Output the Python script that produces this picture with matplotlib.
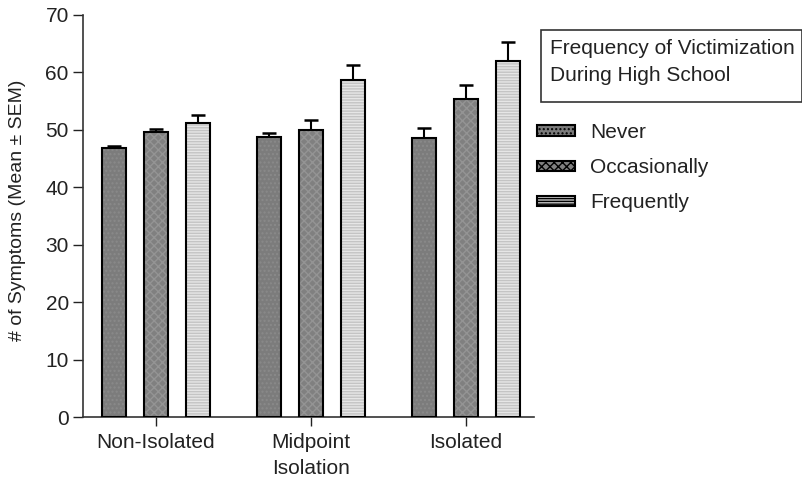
import matplotlib.pyplot as plt
import numpy as np

plt.rcParams['font.family'] = ['Liberation Sans', 'DejaVu Sans']

groups = ["Non-Isolated", "Midpoint\nIsolation", "Isolated"]
series = ["Never", "Occasionally", "Frequently"]
means = {
    "Never": [46.9, 48.7, 48.6],
    "Occasionally": [49.7, 50.0, 55.3],
    "Frequently": [51.2, 58.6, 62.0],
}
sems = {
    "Never": [0.3, 0.7, 1.8],
    "Occasionally": [0.4, 1.7, 2.5],
    "Frequently": [1.3, 2.7, 3.2],
}
legend_title = "Frequency of Victimization\nDuring High School"

# face colour, hatch, hatch colour
styles = {
    "Never": ("#7c7c7c", "....", "#8a8a8a"),
    "Occasionally": ("#808080", "xxxx", "#949494"),
    "Frequently": ("#c4c4c4", "------", "#e6e6e6"),
}

fig = plt.figure(figsize=(8.03, 4.8), dpi=100)
ax = fig.add_axes([0.103, 0.131, 0.562, 0.838])

x = np.arange(len(groups))
offset = 0.271
width = 0.155
handles = []
for i, name in enumerate(series):
    face, hatch, hcol = styles[name]
    pos = x + (i - 1) * offset
    ax.bar(pos, means[name], width, color=face, hatch=hatch, edgecolor=hcol, linewidth=0, zorder=2)
    ax.bar(pos, means[name], width, fill=False, edgecolor="black", linewidth=1.5, zorder=3)
    ax.errorbar(pos, means[name], yerr=[np.zeros(len(groups)), sems[name]], fmt="none",
                ecolor="black", elinewidth=1.5, capsize=5.3, capthick=1.8, zorder=1)
    handles.append(plt.Rectangle((0, 0), 1, 1, facecolor=face, hatch=hatch, edgecolor="black", linewidth=1.5))

ax.set_xlim(-0.471, 2.44)
ax.set_ylim(0, 70)
ax.set_yticks(range(0, 71, 10))
ax.set_xticks(x)
ax.set_xticklabels(groups, fontsize=15, linespacing=1.45)
ax.tick_params(axis="y", labelsize=15, length=7, width=1, pad=3, colors="#222222")
ax.tick_params(axis="x", length=6.5, width=1, pad=5, colors="#222222")
ax.set_ylabel("# of Symptoms (Mean \u00b1 SEM)", fontsize=14, color="#222222")
ax.yaxis.set_label_coords(-0.125, 0.515)
for s in ["top", "right"]:
    ax.spines[s].set_visible(False)
for s in ["left", "bottom"]:
    ax.spines[s].set_linewidth(1.2)
    ax.spines[s].set_color("#333333")

# title box for the legend
fig.patches.append(plt.Rectangle((541 / 803, 1 - 102 / 480), 261 / 803, 72 / 480,
                                 transform=fig.transFigure, facecolor="white",
                                 edgecolor="#333333", linewidth=1.2))
fig.text(550 / 803, 1 - 62 / 480, legend_title, fontsize=15, color="#222222",
         va="center", ha="left", linespacing=1.55)

leg = fig.legend(handles, series, loc="upper left", bbox_to_anchor=(537 / 803, 1 - 123 / 480),
                 frameon=False, borderpad=0, borderaxespad=0,
                 fontsize=15, handlelength=1.83, handleheight=0.4, handletextpad=0.72,
                 labelspacing=0.78, labelcolor="#222222")

fig.savefig("out.png", dpi=100)
